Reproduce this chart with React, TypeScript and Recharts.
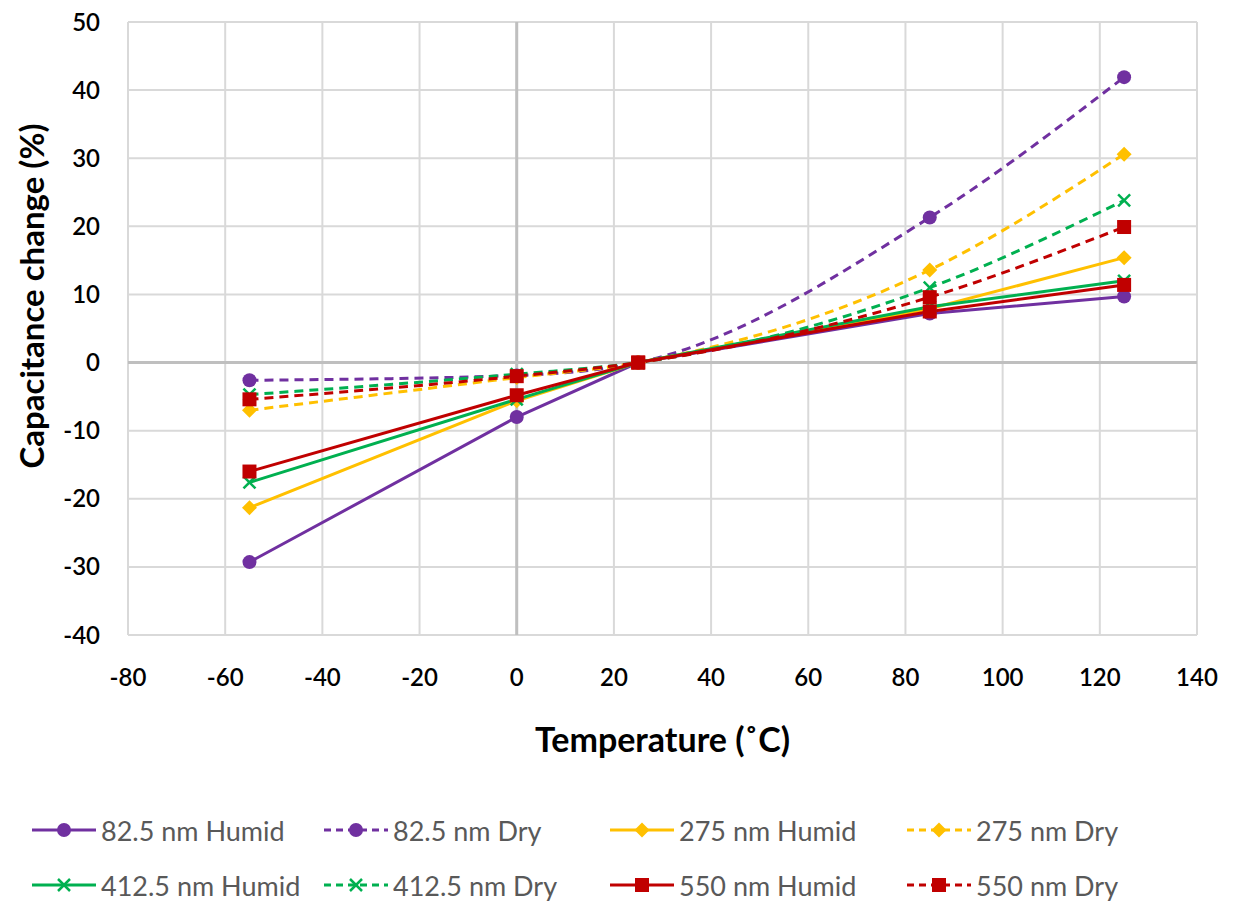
import React from 'react';
import { LineChart, Line, XAxis, YAxis, CartesianGrid, ReferenceLine, Label } from 'recharts';

const temperatures = [-55, 0, 25, 85, 125];

const humid825 = [-29.3, -8.0, 0, 7.2, 9.7];
const dry825 = [-2.6, -1.9, 0, 21.3, 41.9];
const humid275 = [-21.3, -5.6, 0, 7.9, 15.4];
const dry275 = [-7.0, -2.2, 0, 13.6, 30.6];
const humid4125 = [-17.6, -5.4, 0, 8.2, 12.0];
const dry4125 = [-4.7, -1.7, 0, 11.0, 23.8];
const humid550 = [-16.0, -4.8, 0, 7.5, 11.4];
const dry550 = [-5.4, -2.0, 0, 9.6, 19.9];

const xTicks = [-80, -60, -40, -20, 0, 20, 40, 60, 80, 100, 120, 140];
const yTicks = [-40, -30, -20, -10, 0, 10, 20, 30, 40, 50];

type Shape = 'circle' | 'diamond' | 'x' | 'square';

const series = [
  { key: 'h825', name: '82.5 nm Humid', values: humid825, color: '#7030A0', dashed: false, shape: 'circle' as Shape },
  { key: 'd825', name: '82.5 nm Dry', values: dry825, color: '#7030A0', dashed: true, shape: 'circle' as Shape },
  { key: 'h275', name: '275 nm Humid', values: humid275, color: '#FFC000', dashed: false, shape: 'diamond' as Shape },
  { key: 'd275', name: '275 nm Dry', values: dry275, color: '#FFC000', dashed: true, shape: 'diamond' as Shape },
  { key: 'h4125', name: '412.5 nm Humid', values: humid4125, color: '#00B050', dashed: false, shape: 'x' as Shape },
  { key: 'd4125', name: '412.5 nm Dry', values: dry4125, color: '#00B050', dashed: true, shape: 'x' as Shape },
  { key: 'h550', name: '550 nm Humid', values: humid550, color: '#C00000', dashed: false, shape: 'square' as Shape },
  { key: 'd550', name: '550 nm Dry', values: dry550, color: '#C00000', dashed: true, shape: 'square' as Shape },
];

const data = temperatures.map((t, i) => {
  const row: Record<string, number> = { t };
  series.forEach((s) => { row[s.key] = s.values[i]; });
  return row;
});

function Marker({ cx, cy, shape, color, scale = 1 }: { cx: number; cy: number; shape: Shape; color: string; scale?: number }) {
  if (shape === 'circle') return <circle cx={cx} cy={cy} r={7 * scale} fill={color} />;
  if (shape === 'square') {
    const s = 7 * scale;
    return <rect x={cx - s} y={cy - s} width={2 * s} height={2 * s} fill={color} />;
  }
  if (shape === 'diamond') {
    const s = 7.5 * scale;
    return <polygon points={`${cx},${cy - s} ${cx + s},${cy} ${cx},${cy + s} ${cx - s},${cy}`} fill={color} />;
  }
  const s = 6 * scale;
  return (
    <g stroke={color} strokeWidth={2.5}>
      <line x1={cx - s} y1={cy - s} x2={cx + s} y2={cy + s} />
      <line x1={cx - s} y1={cy + s} x2={cx + s} y2={cy - s} />
    </g>
  );
}

const font = 'Lato, "Open Sans", sans-serif';

const legendCols = [30, 322, 608, 905];
const legendRows = [830, 885];

function LegendItem({ s, x, y }: { s: typeof series[number]; x: number; y: number }) {
  return (
    <div style={{ position: 'absolute', left: x, top: y - 17, height: 34, display: 'flex', alignItems: 'center' }}>
      <svg width={68} height={32}>
        <line x1={2} y1={16} x2={66} y2={16} stroke={s.color} strokeWidth={3} strokeDasharray={s.dashed ? '7 5' : undefined} />
        <Marker cx={34} cy={16} shape={s.shape} color={s.color} />
      </svg>
      <span style={{ marginLeft: 3, fontFamily: font, fontSize: 27, color: '#595959', whiteSpace: 'nowrap' }}>{s.name}</span>
    </div>
  );
}

export default function App() {
  return (
    <div style={{ position: 'absolute', left: 0, top: 0, width: 1240, height: 903, background: '#fff' }}>
      <LineChart width={1240} height={790} data={data} margin={{ top: 22, right: 43, left: 68, bottom: 0 }}>
        <CartesianGrid stroke="#D9D9D9" strokeWidth={2} />
        <XAxis
          dataKey="t"
          type="number"
          domain={[-80, 140]}
          ticks={xTicks}
          interval={0}
          axisLine={false}
          tickLine={false}
          tickSize={0}
          tickMargin={34}
          height={155}
          tick={{ fontFamily: font, fontSize: 24, fill: '#000', fontWeight: 600 }}
        >
          <Label
            content={(props: any) => {
              const vb = props.viewBox || {};
              return (
                <text x={vb.x + vb.width / 2} y={vb.y + 117} textAnchor="middle" fontFamily={font} fontSize={34} fontWeight={700} fill="#000">
                  Temperature (˚C)
                </text>
              );
            }}
          />
        </XAxis>
        <YAxis
          type="number"
          domain={[-40, 50]}
          ticks={yTicks}
          interval={0}
          axisLine={false}
          tickLine={false}
          tickSize={0}
          tickMargin={28}
          width={60}
          tick={{ fontFamily: font, fontSize: 24, fill: '#000', fontWeight: 600 }}
        >
          <Label
            content={() => (
              <text x={44} y={296} transform="rotate(-90 44 296)" textAnchor="middle" fontFamily={font} fontSize={33} fontWeight={700} fill="#000">
                Capacitance change (%)
              </text>
            )}
          />
        </YAxis>
        <ReferenceLine x={0} stroke="#BFBFBF" strokeWidth={3} />
        <ReferenceLine y={0} stroke="#BFBFBF" strokeWidth={3} />
        {series.map((s) => (
          <Line
            key={s.key}
            dataKey={s.key}
            name={s.name}
            type={s.dashed ? 'monotone' : 'linear'}
            stroke={s.color}
            strokeWidth={3}
            strokeDasharray={s.dashed ? '9 6' : undefined}
            isAnimationActive={false}
            dot={(p: any) => <Marker key={`${s.key}-${p.index}`} cx={p.cx} cy={p.cy} shape={s.shape} color={s.color} />}
            activeDot={false}
          />
        ))}
      </LineChart>
      {series.map((s, i) => (
        <LegendItem key={s.key} s={s} x={legendCols[i % 4]} y={legendRows[Math.floor(i / 4)]} />
      ))}
    </div>
  );
}
